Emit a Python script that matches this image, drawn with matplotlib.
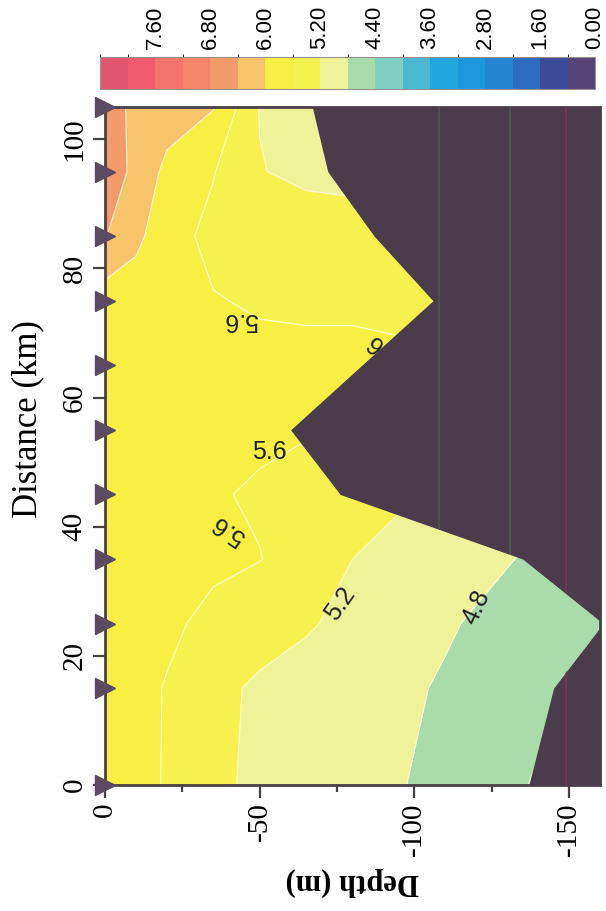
import matplotlib
matplotlib.use("Agg")
import matplotlib.pyplot as plt
from matplotlib.colors import ListedColormap, BoundaryNorm
from matplotlib.cm import ScalarMappable

plt.rcParams['font.family'] = ['Liberation Serif', 'DejaVu Serif']

# stations along the section (km) and bottom depth at each (m)
stations = [0, 15, 25, 35, 45, 55, 65, 75, 85, 95, 105]
bottom = [-137, -145, -161, -135, -76, -60, -83, -106, -87, -72, -67]

# sample depths (m)
depths = [0, -10, -20, -35, -50, -65, -80, -95, -110, -125, -140, -155, -170]

# one row per station, one value per sample depth
field = [
    [5.75, 5.68, 5.58, 5.28, 5.12, 5.02, 4.93, 4.82, 4.70, 4.55, 4.36, 4.30, 4.20],
    [5.78, 5.70, 5.58, 5.30, 5.14, 5.05, 4.96, 4.87, 4.76, 4.62, 4.50, 4.45, 4.40],
    [6.05, 5.75, 5.66, 5.52, 5.36, 5.24, 5.10, 4.98, 4.84, 4.72, 4.60, 4.50, 4.45],
    [5.80, 5.75, 5.70, 5.66, 5.61, 5.45, 5.20, 5.08, 4.96, 4.86, 4.74, 4.65, 4.60],
    [5.82, 5.78, 5.72, 5.63, 5.56, 5.50, 5.35, 5.25, 5.10, 5.00, 4.90, 4.80, 4.75],
    [5.85, 5.80, 5.75, 5.70, 5.66, 5.62, 5.60, 5.55, 5.50, 5.40, 5.30, 5.20, 5.10],
    [5.88, 5.82, 5.76, 5.72, 5.70, 5.68, 5.68, 5.65, 5.60, 5.55, 5.50, 5.45, 5.40],
    [5.80, 5.78, 5.72, 5.62, 5.56, 5.55, 5.55, 5.54, 5.50, 5.45, 5.40, 5.35, 5.30],
    [6.42, 6.10, 5.75, 5.50, 5.46, 5.44, 5.42, 5.40, 5.38, 5.35, 5.30, 5.25, 5.20],
    [6.65, 6.30, 5.90, 5.62, 5.22, 5.10, 5.06, 5.04, 5.02, 5.00, 5.00, 5.00, 5.00],
    [6.60, 6.30, 6.20, 6.02, 5.18, 5.08, 5.04, 5.02, 5.00, 5.00, 5.00, 5.00, 5.00],
]

levels = [0.0, 0.8, 1.6, 2.2, 2.8, 3.2, 3.6, 4.0, 4.4, 4.8, 5.2, 5.6,
          6.0, 6.4, 6.8, 7.2, 7.6, 8.0, 8.4]
level_colors = ['#564478', '#3c4a9a', '#2f6cc0', '#2486d2', '#1d98dc', '#22a6de',
                '#4cb9d0', '#82cfc4', '#a9dcaa', '#eef39a', '#f7f150', '#f8ee44',
                '#f6c46a', '#f29a6a', '#f2846a', '#f2746c', '#f05a6c', '#e0566e']
cbar_ticks = [0.0, 1.6, 2.8, 3.6, 4.4, 5.2, 6.0, 6.8, 7.6]
line_levels = [4.4, 4.8, 5.2, 5.6, 6.0, 6.4]

# contour labels as printed: text, depth, distance, rotation
lab_text = ['5.6', '5.6', '5.6', '5.2', '4.8', '5.6']
lab_depth = [-44, -53, -40, -76, -120, -90]
lab_dist = [72, 51.5, 39.5, 28, 27.6, 67.5]
lab_rot = [180, 0, 145, 55, 65, 140]

fig = plt.figure(figsize=(6.06, 9.11), dpi=100)
ax = fig.add_axes([105 / 606, 1 - 785 / 911, 495 / 606, 678 / 911])
cax = fig.add_axes([100 / 606, 1 - 89 / 911, 495 / 606, 32 / 911])

ax.contourf(depths, stations, field, levels=levels, colors=level_colors)
ax.contour(depths, stations, field, levels=line_levels, colors='#fffbe0',
           linewidths=0.9, alpha=0.85)

# sea floor
floor = ax.fill_betweenx(stations, bottom, -200, color='#4a3c4b', lw=0, zorder=3)
clip = floor.get_paths()[0]
for dep, col in zip([-108, -131, -149], ['#525a4c', '#55604c', '#8c3454']):
    ln = ax.axvline(dep, color=col, lw=1.3, alpha=0.75, zorder=4)
    ln.set_clip_path(clip, ax.transData)

for s, zx, dy, r in zip(lab_text, lab_depth, lab_dist, lab_rot):
    ax.text(zx, dy, s, rotation=r, fontsize=18, family='Liberation Sans',
            ha='center', va='center', color='#222222', zorder=2.5)

# station markers
ax.plot([0] * len(stations), stations, '>', color='#5b4a62', ms=15,
        clip_on=False, zorder=6)

ax.set_xlim(0, -160)
ax.set_ylim(0, 105)
ax.set_xticks([0, -50, -100, -150])
ax.set_xticklabels(['0', '-50', '-100', '-150'], rotation=90)
ax.set_xticks([-25, -75, -125], minor=True)
ax.set_yticks([0, 20, 40, 60, 80, 100])
ax.set_yticklabels(['0', '20', '40', '60', '80', '100'], rotation=90, va='center')
ax.tick_params(axis='both', which='major', labelsize=21, length=9, width=1.6,
               color='#4a4048')
ax.tick_params(axis='x', which='minor', length=5, width=1.6, color='#4a4048')
for sp in ax.spines.values():
    sp.set_color('#4a4048')
    sp.set_linewidth(2)

ax.set_xlabel('Depth (m)', rotation=180, fontsize=22, fontweight='bold', labelpad=8)
ax.set_ylabel('Distance (km)', rotation=90, fontsize=25)
ax.yaxis.set_label_coords(-0.123, 0.54)

cmap = ListedColormap(level_colors)
norm = BoundaryNorm(levels, cmap.N)
cb = fig.colorbar(ScalarMappable(norm=norm, cmap=cmap), cax=cax,
                  orientation='horizontal', ticks=cbar_ticks, spacing='uniform',
                  drawedges=True)
cax.invert_xaxis()
cb.set_ticklabels(['%.2f' % t for t in cbar_ticks])
cax.xaxis.set_ticks_position('top')
cax.tick_params(axis='x', length=0, labelsize=16, rotation=90, pad=6)
for t in cax.get_xticklabels():
    t.set_family('Liberation Sans')
cb.dividers.set_color('#e6dcc8')
cb.dividers.set_linewidth(0.7)
cb.outline.set_edgecolor('#9a9090')
cb.outline.set_linewidth(0.8)

fig.savefig('out.png', dpi=100)
